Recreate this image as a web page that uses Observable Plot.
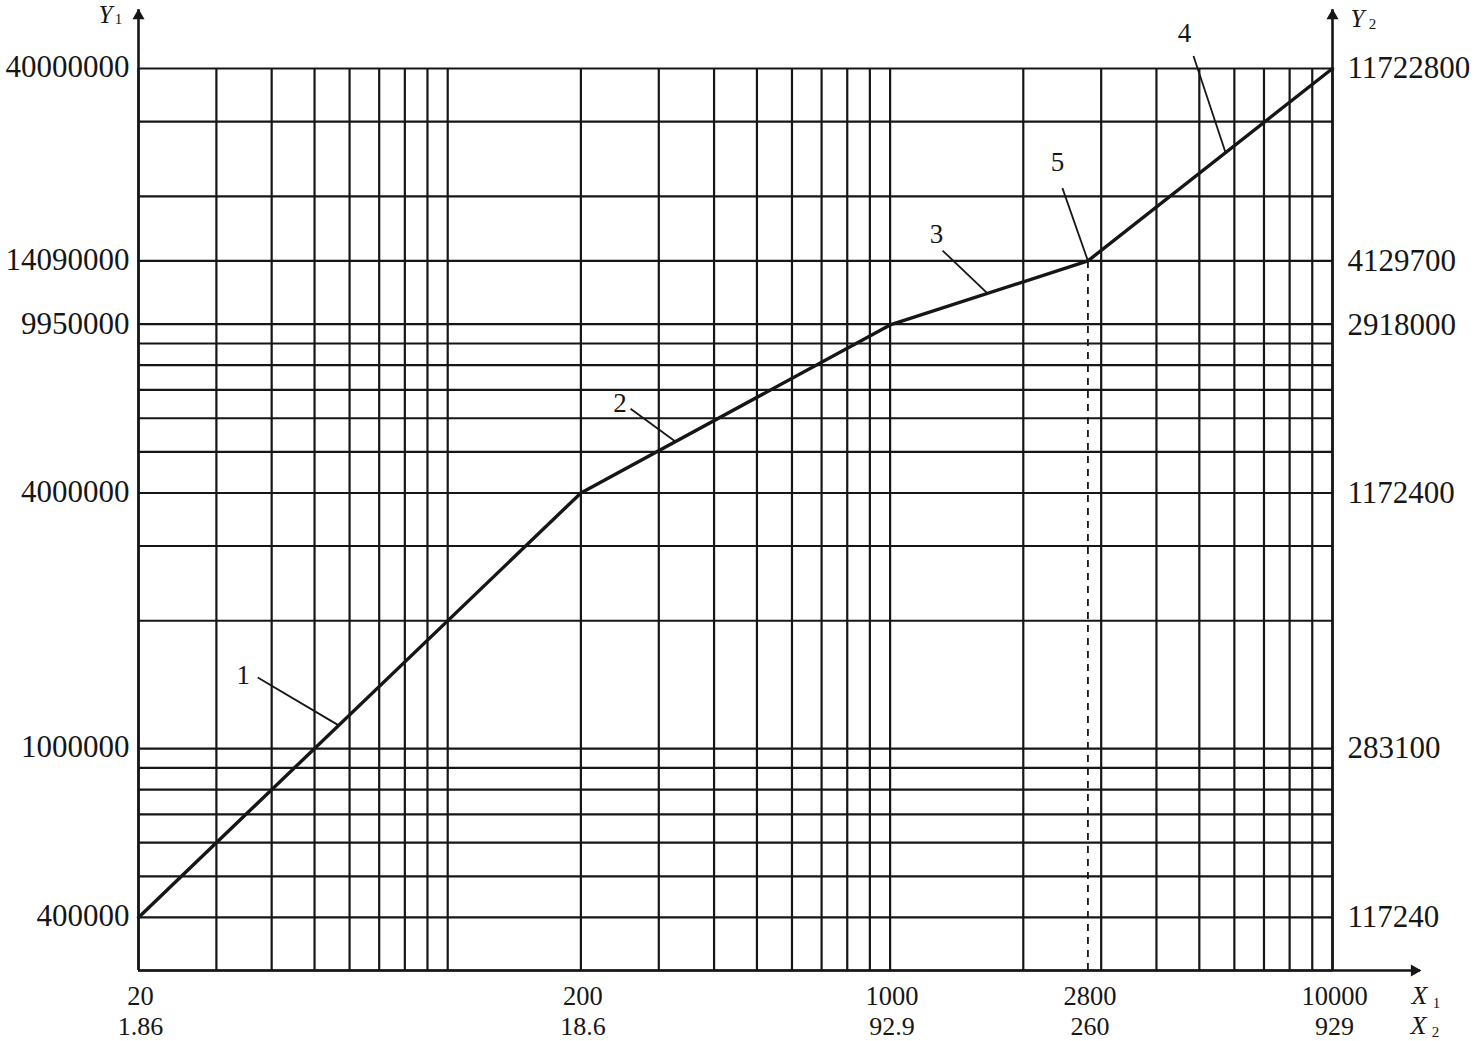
<!DOCTYPE html>
<html>
<head>
<meta charset="utf-8">
<script src="https://cdn.jsdelivr.net/npm/d3@7"></script>
<script src="https://cdn.jsdelivr.net/npm/@observablehq/plot@0.6"></script>
<style>
  html, body { margin: 0; padding: 0; background: #fff; }
</style>
</head>
<body>
<div id="chart"></div>
<script>
// Grid positions
const xGrid = [20, 30, 40, 50, 60, 70, 80, 90, 100, 200, 300, 400, 500, 600, 700, 800, 900, 1000, 2000, 3000, 4000, 5000, 6000, 7000, 8000, 9000, 10000];
const yGrid = [300000, 400000, 500000, 600000, 700000, 800000, 900000, 1000000, 2000000, 3000000, 4000000, 5000000, 6000000, 7000000, 8000000, 9000000, 10000000, 14090000, 20000000, 30000000, 40000000];

// Tick labels
const xTicks = [20, 200, 1000, 2800, 10000];
const x1Labels = ["20", "200", "1000", "2800", "10000"];
const x2Labels = ["1.86", "18.6", "92.9", "260", "929"];
const yTicks = [40000000, 14090000, 9950000, 4000000, 1000000, 400000];
const y1Labels = ["40000000", "14090000", "9950000", "4000000", "1000000", "400000"];
const y2Labels = ["11722800", "4129700", "2918000", "1172400", "283100", "117240"];

// Curve break points
const curveX = [20, 200, 1000, 2800, 10000];
const curveY = [400000, 4000000, 9950000, 14090000, 40000000];

// Segment labels and leader lines
const labelText = ["1", "2", "3", "4", "5"];
const labelX = [34.5, 245, 1273, 4628, 2390];
const labelY = [1490000, 6500000, 16300000, 48400000, 24000000];
const leaderX1 = [37.2, 259, 1314, 4850, 2452];
const leaderY1 = [1470000, 6320000, 14900000, 42800000, 20900000];
const leaderX2 = [56.7, 327, 1660, 5730, 2800];
const leaderY2 = [1134000, 5290000, 11810000, 25350000, 14090000];

// Dashed marker at break point 5
const dashX = [2800];
const dashTop = [14090000];

// Axis extents (arrows)
const xDomain = [20, 10000];
const yDomain = [300000, 40000000];
const yAxisTop = 55000000;
const xAxisEnd = 15800;

const curve = curveX.map((x, i) => ({x, y: curveY[i]}));
const labels = labelText.map((t, i) => ({t, x: labelX[i], y: labelY[i]}));
const leaders = labelText.map((t, i) => ({x1: leaderX1[i], y1: leaderY1[i], x2: leaderX2[i], y2: leaderY2[i]}));

const font = "'Liberation Serif', 'Times New Roman', serif";
const ink = "#161616";

const chart = Plot.plot({
  width: 1477,
  height: 1041,
  marginLeft: 138,
  marginRight: 145,
  marginTop: 68,
  marginBottom: 71,
  style: {background: "#fff", fontFamily: font, color: ink},
  x: {type: "log", domain: xDomain, axis: null},
  y: {type: "log", domain: yDomain, axis: null},
  marks: [
    // grid
    Plot.ruleX(xGrid, {x: d => d, y1: yDomain[0], y2: yDomain[1], stroke: ink, strokeWidth: 2.2}),
    Plot.ruleY(yGrid, {y: d => d, x1: xDomain[0], x2: xDomain[1], stroke: ink, strokeWidth: 2.2}),
    // axes with arrows
    Plot.ruleX([xDomain[0], xDomain[1]], {x: d => d, y1: yDomain[0], y2: yAxisTop, stroke: ink, strokeWidth: 2.6}),
    Plot.ruleY([yDomain[0]], {y: d => d, x1: xDomain[0], x2: xAxisEnd, stroke: ink, strokeWidth: 2.6}),
    Plot.dot([xDomain[0], xDomain[1]], {x: d => d, y: yAxisTop, symbol: "triangle", r: 4.5, fill: ink, stroke: "none", dy: 6}),
    Plot.dot([yDomain[0]], {x: xAxisEnd, y: d => d, symbol: "triangle", r: 4.5, fill: ink, stroke: "none", rotate: 90, dx: -6}),
    // dashed line
    Plot.ruleX(dashX, {x: d => d, y1: yDomain[0], y2: (d, i) => dashTop[i], stroke: ink, strokeWidth: 1.8, strokeDasharray: "7,6"}),
    // curve
    Plot.line(curve, {x: "x", y: "y", stroke: ink, strokeWidth: 3.4}),
    // leaders and labels
    Plot.link(leaders, {x1: "x1", y1: "y1", x2: "x2", y2: "y2", stroke: ink, strokeWidth: 1.8}),
    Plot.text(labels, {x: "x", y: "y", text: "t", fontSize: 27, fill: ink}),
    // left tick labels
    Plot.text(yTicks, {x: xDomain[0], y: d => d, text: (d, i) => y1Labels[i], textAnchor: "end", dx: -9, dy: -1, fontSize: 31, fill: ink}),
    // right tick labels
    Plot.text(yTicks, {x: xDomain[1], y: d => d, text: (d, i) => y2Labels[i], textAnchor: "start", dx: 15, dy: 0, fontSize: 31, fill: ink}),
    // bottom tick labels
    Plot.text(xTicks, {x: d => d, y: yDomain[0], text: (d, i) => x1Labels[i], dy: 26, dx: 2, fontSize: 26.5, fill: ink}),
    Plot.text(xTicks, {x: d => d, y: yDomain[0], text: (d, i) => x2Labels[i], dy: 56, dx: 2, fontSize: 26, fill: ink}),
    // axis titles
    Plot.text(["Y"], {x: xDomain[0], y: yDomain[1], text: d => d, dx: -33, dy: -54, fontSize: 25, fontStyle: "italic", fill: ink}),
    Plot.text(["1"], {x: xDomain[0], y: yDomain[1], text: d => d, dx: -20, dy: -49, fontSize: 15, fill: ink}),
    Plot.text(["Y"], {x: xDomain[1], y: yDomain[1], text: d => d, dx: 25, dy: -50, fontSize: 25, fontStyle: "italic", fill: ink}),
    Plot.text(["2"], {x: xDomain[1], y: yDomain[1], text: d => d, dx: 40, dy: -44, fontSize: 15, fill: ink}),
    Plot.text(["X"], {x: xDomain[1], y: yDomain[0], text: d => d, dx: 87, dy: 25, fontSize: 26, fontStyle: "italic", fill: ink}),
    Plot.text(["1"], {x: xDomain[1], y: yDomain[0], text: d => d, dx: 104, dy: 33, fontSize: 15, fill: ink}),
    Plot.text(["X"], {x: xDomain[1], y: yDomain[0], text: d => d, dx: 86, dy: 55, fontSize: 26, fontStyle: "italic", fill: ink}),
    Plot.text(["2"], {x: xDomain[1], y: yDomain[0], text: d => d, dx: 103, dy: 62, fontSize: 15, fill: ink})
  ]
});
document.getElementById("chart").appendChild(chart);
</script>
</body>
</html>
